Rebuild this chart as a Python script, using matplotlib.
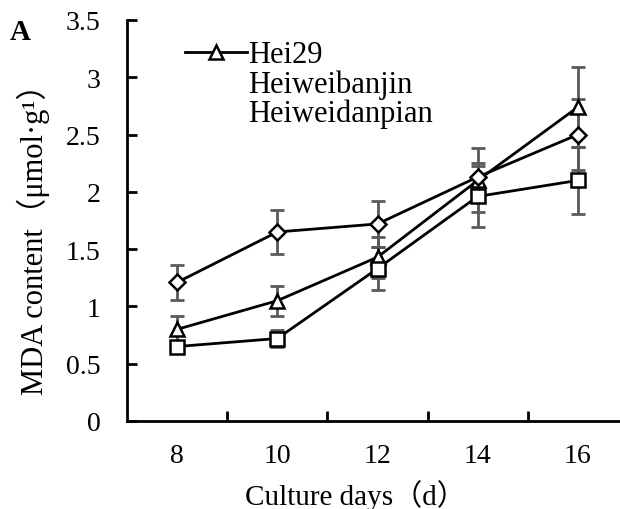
from matplotlib import pyplot as plt
from matplotlib.lines import Line2D
import numpy as np

days = ['8', '10', '12', '14', '16']
hei29 = [0.80, 1.05, 1.43, 2.10, 2.74]
hei29_err = [0.12, 0.13, 0.18, 0.28, 0.35]
banjin = [0.65, 0.72, 1.33, 1.96, 2.10]
banjin_err = [0.05, 0.07, 0.19, 0.27, 0.29]
danpian = [1.21, 1.65, 1.72, 2.13, 2.50]
danpian_err = [0.15, 0.19, 0.20, 0.12, 0.31]

plt.rcParams['font.family'] = ['Liberation Serif', 'Noto Sans CJK SC']
plt.rcParams['font.size'] = 20

fig = plt.figure(figsize=(6.2, 5.1), dpi=100)
W, H = 620, 510
ax = fig.add_axes([127 / W, 1 - 422 / H, (628 - 127) / W, (422 - 21) / H])
x = np.arange(len(days))

series = [
    (hei29, hei29_err, '^', 'Hei29', 10),
    (banjin, banjin_err, 's', 'Heiweibanjin', 10),
    (danpian, danpian_err, 'D', 'Heiweidanpian', 8),
]
handles = []
for y, e, m, name, ms in series:
    ax.errorbar(x, y, yerr=e, fmt='none', ecolor='#595959', elinewidth=2,
                capsize=5, capthick=2, zorder=2)
    ln, = ax.plot(x, y, color='black', lw=2, marker=m, ms=ms, mfc='white',
                  mec='black', mew=1.8, zorder=3, label=name)
    handles.append(ln)

ax.set_xlim(-0.5, 4.5)
ax.set_ylim(0, 3.5)
ax.set_yticks(np.arange(0, 3.51, 0.5))
ax.set_yticklabels(['0', '0.5', '1', '1.5', '2', '2.5', '3', '3.5'])
ax.set_xticks(x)
ax.set_xticklabels(days)
ax.set_xticks(np.arange(0.5, 4.5, 1), minor=True)
ax.tick_params(axis='x', which='major', length=0, pad=16)
ax.tick_params(axis='x', which='minor', direction='in', length=7, width=2)
ax.tick_params(axis='y', direction='in', length=7, width=2, pad=19)
for s in ['top', 'right']:
    ax.spines[s].set_visible(False)
for s in ['left', 'bottom']:
    ax.spines[s].set_linewidth(2)

# legend: only the first entry keeps its symbol
blank = [Line2D([], [], color='none') for _ in range(2)]
ax.legend([handles[0]] + blank, ['Hei29', 'Heiweibanjin', 'Heiweidanpian'],
          loc='upper left', bbox_to_anchor=(0.08, 0.995), frameon=False,
          fontsize=22, handlelength=2.0, handletextpad=0.05,
          labelspacing=0.0, borderaxespad=0.2)

fig.text(355 / W, 1 - 496 / H, 'Culture days（d）', ha='center', va='center',
         fontsize=21)
fig.text(33 / W, 1 - 232 / H, 'MDA content（μmol·g¹）', rotation=90,
         ha='center', va='center', fontsize=22)
fig.text(10 / W, 1 - 33 / H, 'A', fontweight='bold', ha='left', va='center',
         fontsize=21)

plt.savefig('out.png', dpi=100)
